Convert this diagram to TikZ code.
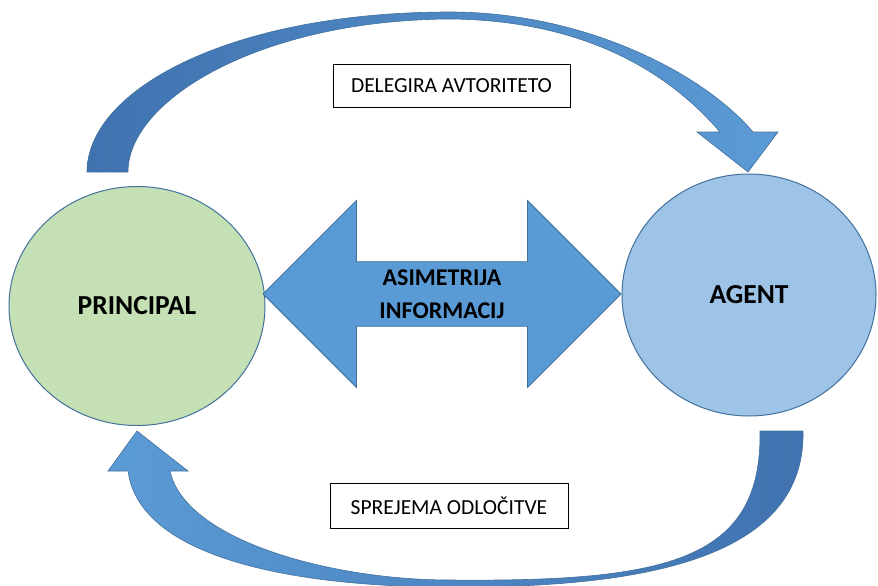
\documentclass[tikz,border=0pt]{standalone}
\usepackage{fontspec}
\setmainfont{Carlito}
\usetikzlibrary{shapes.geometric, shapes.arrows, positioning, calc}
\definecolor{colGreen}{RGB}{197,224,180}
\definecolor{colAgent}{RGB}{157,195,230}
\definecolor{colArrow}{RGB}{91,155,213}
\definecolor{colArrowDark}{RGB}{64,114,176}
\definecolor{colEdge}{RGB}{65,113,156}

\begin{document}
\begin{tikzpicture}[x=1pt, y=-1pt,
    party/.style={ellipse, draw=colEdge, line width=1pt, inner sep=0pt,
        font=\fontsize{27.5}{32}\selectfont\bfseries},
    labelbox/.style={draw=black, line width=0.8pt, fill=white, inner sep=0pt,
        minimum width=237pt, minimum height=43pt, font=\fontsize{21.5}{25}\selectfont},
    blockarrow/.style={draw=colEdge, line width=0.6pt}]
    \useasboundingbox (0,0) rectangle (878,586);

    % --- Principal in agent ---
    \node[party, fill=colGreen, minimum width=256pt, minimum height=239pt] (principal) at (137,306) {PRINCIPAL};
    \node[party, fill=colAgent, minimum width=254pt, minimum height=242pt] (agent) at (749,295) {AGENT};

    % --- Dvojna puscica ---
    \node[double arrow, fill=colArrow, draw=colEdge, line width=0.8pt,
        minimum height=358pt, minimum width=187pt, double arrow head extend=47pt,
        inner sep=0pt, align=center, font=\fontsize{24}{33}\selectfont\bfseries]
        (asym) at (442,294) {ASIMETRIJA\\INFORMACIJ};

    % --- Zgornja ukrivljena puscica ---
    \draw[blockarrow, left color=colArrowDark, right color=colArrow]
        (87,172) .. controls (87,90) and (230,12) .. (450,12)
        .. controls (580,12) and (700,70) .. (753,132)
        -- (778,132) -- (748,172) -- (697,132) -- (720,132)
        .. controls (660,62) and (570,20) .. (450,19)
        .. controls (260,20) and (128,100) .. (128,172) -- cycle;

    % --- Spodnja ukrivljena puscica ---
    \draw[blockarrow, left color=colArrow, right color=colArrowDark]
        (803,431) .. controls (806,560) and (640,588) .. (450,587)
        .. controls (300,587) and (140,560) .. (128,471)
        -- (108,471) -- (137,431) -- (188,471) -- (170,471)
        .. controls (185,540) and (330,580) .. (450,580)
        .. controls (670,582) and (762,560) .. (760,431) -- cycle;

    % --- Oznake ---
    \node[labelbox] (delegira) at (451.5,85.5) {DELEGIRA AVTORITETO};
    \node[labelbox, minimum width=238pt, minimum height=45pt] (sprejema) at (449,505.5) {SPREJEMA ODLOČITVE};
\end{tikzpicture}
\end{document}
